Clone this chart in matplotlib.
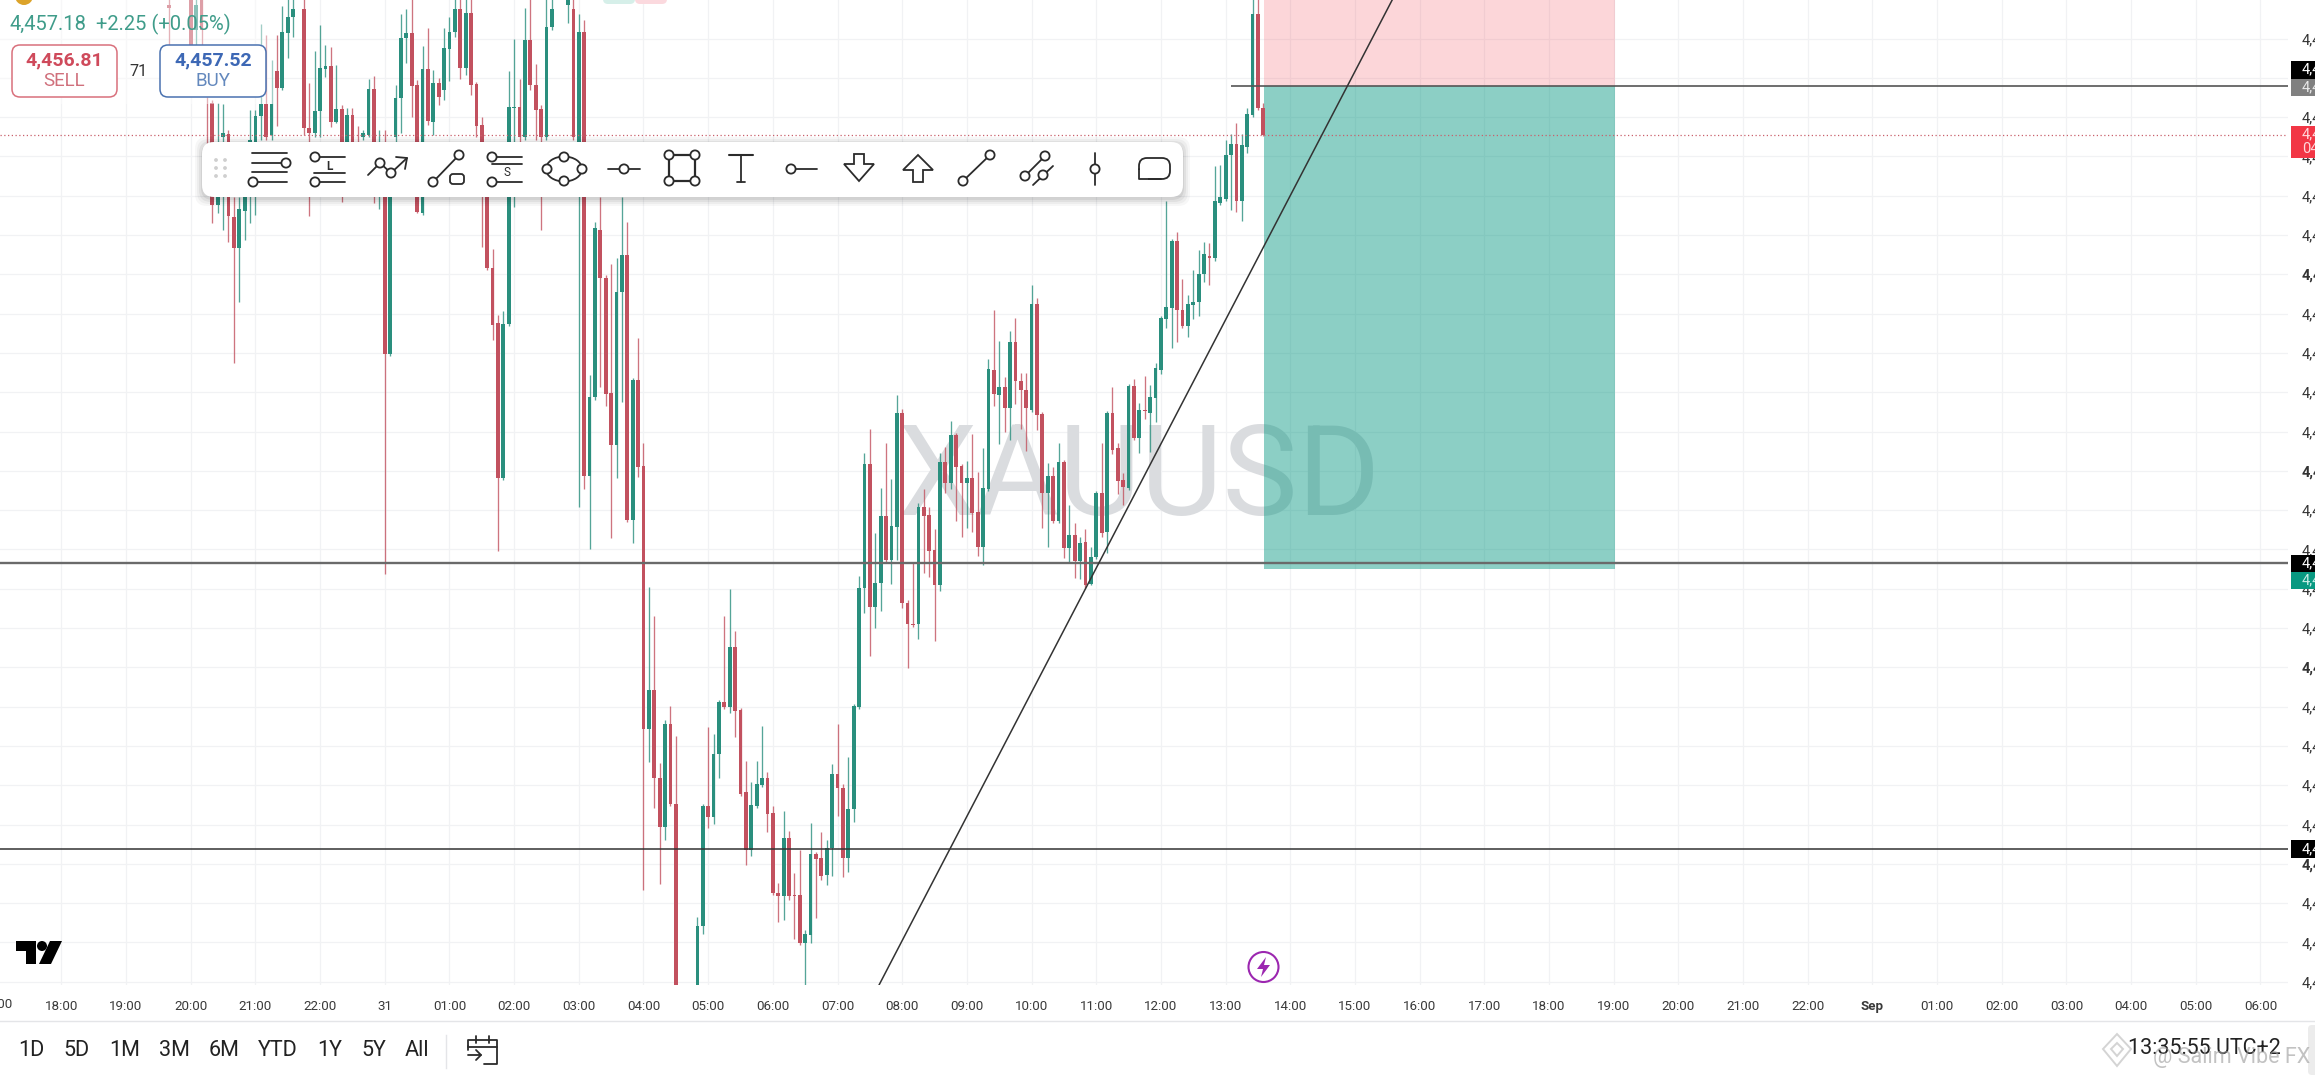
import numpy as np
import matplotlib
matplotlib.use('Agg')
import matplotlib.pyplot as plt
from matplotlib.patches import Circle, Ellipse, FancyBboxPatch, Polygon, Rectangle

plt.rcParams['font.family'] = ['Roboto', 'DejaVu Sans']

# 5 minute XAUUSD candles, bar 0 is the 04:00 candle
bar_index = np.arange(-88, 116)

opens = [
    4470.2, 4472.2, 4473.2, 4472.2, 4471.2, 4467.7, 4470.9, 4456.2, 4460.4, 4450.2,
    4457.0, 4457.3, 4449.0, 4445.9, 4449.6, 4451.7, 4452.7, 4459.1, 4460.3, 4457.2,
    4463.6, 4461.9, 4467.4, 4469.0, 4471.5, 4469.8, 4457.9, 4457.4, 4459.6, 4463.8,
    4464.1, 4458.5, 4459.8, 4454.7, 4459.2, 4456.2, 4457.0, 4457.2, 4461.8, 4452.7,
    4453.2, 4435.3, 4457.0, 4460.9, 4466.9, 4467.4, 4462.2, 4449.4, 4463.8, 4458.5,
    4462.4, 4461.7, 4465.8, 4467.5, 4469.8, 4463.9, 4469.4, 4462.3, 4458.2, 4451.7,
    4443.9, 4438.4, 4422.9, 4438.3, 4459.9, 4460.0, 4457.0, 4466.7, 4462.2, 4459.8,
    4457.0, 4468.0, 4471.5, 4471.5, 4470.2, 4469.8, 4452.7, 4467.5, 4423.1, 4431.0,
    4447.7, 4442.9, 4431.4, 4426.2, 4441.5, 4445.2, 4418.7, 4432.7, 4424.1, 4397.8,
    4401.7, 4392.9, 4388.0, 4398.3, 4390.3, 4371.2, 4367.7, 4369.7, 4372.2, 4378.1,
    4390.1, 4389.0, 4395.3, 4400.5, 4400.0, 4406.0, 4399.7, 4391.5, 4385.7, 4390.1,
    4392.2, 4392.9, 4389.4, 4381.4, 4381.1, 4386.9, 4381.2, 4381.2, 4376.4, 4377.2,
    4385.3, 4384.9, 4383.2, 4385.9, 4393.3, 4391.9, 4384.9, 4389.8, 4400.0, 4411.9,
    4424.3, 4410.0, 4412.4, 4419.1, 4414.7, 4418.0, 4429.4, 4410.4, 4408.3, 4408.3,
    4420.0, 4419.2, 4415.7, 4412.2, 4424.5, 4422.4, 4427.2, 4424.1, 4422.4, 4422.9,
    4419.5, 4416.0, 4421.8, 4433.7, 4431.2, 4432.0, 4429.9, 4436.5, 4432.6, 4431.7,
    4429.7, 4440.3, 4429.3, 4421.4, 4423.1, 4418.6, 4424.5, 4415.9, 4417.2, 4414.6,
    4416.5, 4412.3, 4415.0, 4421.4, 4417.5, 4429.4, 4425.9, 4422.7, 4421.9, 4432.1,
    4426.9, 4429.7, 4429.4, 4430.9, 4433.7, 4438.8, 4439.9, 4446.6, 4439.7, 4438.1,
    4440.2, 4440.5, 4443.3, 4445.1, 4444.9, 4450.4, 4450.8, 4455.2, 4456.3, 4450.6,
    4456.0, 4459.2, 4469.3, 4459.9,
]
highs = [
    4471.2, 4473.7, 4473.7, 4473.7, 4471.7, 4471.2, 4471.2, 4461.0, 4460.7, 4460.4,
    4460.3, 4457.7, 4451.0, 4451.0, 4451.7, 4459.7, 4459.7, 4468.3, 4467.2, 4464.7,
    4467.2, 4470.1, 4471.0, 4471.2, 4472.7, 4471.7, 4462.4, 4465.6, 4468.2, 4466.2,
    4466.0, 4464.2, 4460.2, 4459.9, 4459.9, 4458.1, 4457.7, 4462.8, 4463.1, 4457.7,
    4457.7, 4455.7, 4462.2, 4469.3, 4469.8, 4470.9, 4462.7, 4466.1, 4467.9, 4463.7,
    4462.9, 4467.9, 4469.0, 4471.0, 4471.0, 4471.0, 4471.0, 4462.5, 4459.0, 4452.7,
    4445.8, 4439.2, 4439.6, 4463.6, 4466.8, 4462.8, 4469.9, 4470.9, 4464.3, 4460.2,
    4471.0, 4471.0, 4472.7, 4472.7, 4472.2, 4471.0, 4469.3, 4468.7, 4433.2, 4448.5,
    4451.0, 4443.2, 4444.3, 4444.9, 4451.0, 4448.5, 4432.9, 4436.9, 4426.4, 4412.0,
    4409.1, 4394.4, 4398.7, 4400.1, 4397.1, 4371.7, 4371.7, 4371.7, 4379.0, 4390.3,
    4398.0, 4397.3, 4400.7, 4409.1, 4411.8, 4407.6, 4399.9, 4394.6, 4392.5, 4394.6,
    4398.1, 4393.5, 4390.1, 4382.4, 4389.6, 4387.6, 4383.4, 4385.7, 4377.7, 4388.4,
    4385.5, 4387.5, 4386.7, 4394.3, 4398.3, 4392.3, 4395.0, 4400.3, 4413.1, 4425.4,
    4427.8, 4417.4, 4421.9, 4426.4, 4422.8, 4431.2, 4429.8, 4410.7, 4414.5, 4420.4,
    4421.8, 4420.0, 4417.8, 4425.4, 4426.0, 4428.6, 4427.4, 4424.3, 4424.6, 4427.3,
    4423.5, 4425.9, 4434.8, 4439.7, 4436.6, 4433.0, 4437.6, 4438.9, 4433.4, 4433.4,
    4442.2, 4440.9, 4429.5, 4424.4, 4424.0, 4426.4, 4424.7, 4420.2, 4418.4, 4417.0,
    4417.8, 4416.0, 4421.6, 4426.4, 4429.6, 4432.0, 4426.4, 4423.4, 4432.3, 4432.8,
    4430.4, 4433.1, 4432.2, 4434.4, 4439.1, 4450.6, 4446.8, 4447.5, 4442.8, 4441.2,
    4443.7, 4445.7, 4446.5, 4446.4, 4454.1, 4454.2, 4456.7, 4457.3, 4458.4, 4457.3,
    4459.9, 4471.2, 4471.2, 4460.4,
]
lows = [
    4465.7, 4471.7, 4471.7, 4471.7, 4464.7, 4466.2, 4465.9, 4451.7, 4448.4, 4449.4,
    4447.7, 4446.5, 4434.4, 4440.5, 4446.7, 4448.4, 4449.2, 4456.7, 4456.7, 4456.7,
    4458.1, 4461.7, 4464.9, 4467.0, 4471.0, 4457.2, 4449.1, 4457.0, 4457.0, 4463.0,
    4458.0, 4458.4, 4450.5, 4453.2, 4453.2, 4452.2, 4456.7, 4457.0, 4450.4, 4449.8,
    4413.3, 4435.1, 4453.7, 4457.4, 4464.4, 4459.0, 4449.4, 4449.2, 4458.2, 4457.2,
    4460.2, 4460.7, 4462.6, 4467.0, 4462.8, 4463.2, 4461.2, 4457.0, 4446.0, 4443.7,
    4436.7, 4415.6, 4422.7, 4438.1, 4450.0, 4456.2, 4456.7, 4461.7, 4456.7, 4447.7,
    4456.7, 4467.7, 4471.0, 4471.0, 4468.4, 4456.7, 4420.0, 4421.8, 4415.8, 4430.7,
    4432.0, 4430.1, 4416.9, 4422.9, 4430.5, 4418.5, 4416.4, 4423.0, 4381.7, 4394.5,
    4389.9, 4382.3, 4386.7, 4390.1, 4366.7, 4366.7, 4366.7, 4368.7, 4370.7, 4377.3,
    4387.9, 4388.3, 4392.9, 4399.8, 4399.4, 4397.0, 4391.1, 4384.2, 4385.1, 4389.9,
    4392.0, 4387.5, 4381.2, 4378.5, 4378.7, 4380.7, 4376.8, 4376.2, 4372.2, 4376.4,
    4378.9, 4382.7, 4382.2, 4383.1, 4389.1, 4383.0, 4383.5, 4388.5, 4399.8, 4409.4,
    4405.1, 4407.9, 4409.6, 4414.4, 4412.3, 4414.7, 4409.9, 4403.9, 4408.0, 4406.8,
    4413.4, 4413.0, 4406.6, 4411.6, 4421.4, 4421.8, 4418.6, 4417.0, 4417.9, 4417.5,
    4415.1, 4414.2, 4421.6, 4430.1, 4426.3, 4427.5, 4426.7, 4430.3, 4427.8, 4425.6,
    4429.5, 4427.7, 4417.9, 4416.0, 4418.4, 4418.4, 4414.9, 4414.5, 4412.9, 4412.8,
    4411.9, 4412.2, 4414.8, 4417.0, 4415.4, 4425.3, 4421.3, 4420.2, 4421.7, 4426.7,
    4425.4, 4428.8, 4425.5, 4428.5, 4433.3, 4437.9, 4435.9, 4436.5, 4437.9, 4437.0,
    4438.8, 4439.1, 4442.5, 4442.2, 4444.6, 4450.2, 4450.6, 4449.7, 4449.5, 4448.6,
    4455.4, 4459.0, 4459.7, 4457.1,
]
closes = [
    4469.9, 4473.2, 4472.2, 4473.2, 4466.2, 4470.2, 4467.7, 4453.7, 4450.2, 4454.7,
    4457.4, 4449.1, 4445.9, 4449.8, 4451.0, 4456.7, 4459.1, 4460.3, 4457.0, 4460.3,
    4461.9, 4467.5, 4469.0, 4469.8, 4472.2, 4457.9, 4457.4, 4459.6, 4463.9, 4464.1,
    4458.5, 4459.8, 4453.7, 4459.2, 4454.2, 4453.7, 4457.4, 4461.8, 4453.7, 4455.7,
    4435.3, 4454.7, 4460.9, 4466.9, 4467.4, 4462.1, 4449.5, 4463.8, 4458.6, 4462.4,
    4461.0, 4465.9, 4467.5, 4469.8, 4463.9, 4469.4, 4462.2, 4458.1, 4451.2, 4443.9,
    4438.2, 4422.9, 4438.3, 4460.0, 4460.0, 4457.0, 4466.7, 4462.2, 4459.7, 4457.0,
    4468.0, 4469.8, 4472.2, 4472.2, 4471.7, 4457.0, 4467.5, 4423.1, 4431.0, 4447.9,
    4442.9, 4431.3, 4426.2, 4441.5, 4445.2, 4418.7, 4432.7, 4424.0, 4397.8, 4401.7,
    4392.9, 4388.0, 4398.3, 4390.3, 4372.2, 4367.7, 4371.2, 4371.2, 4378.1, 4390.1,
    4389.0, 4395.3, 4400.5, 4400.0, 4406.0, 4399.6, 4391.3, 4385.7, 4390.2, 4392.3,
    4392.9, 4389.3, 4381.4, 4381.1, 4386.9, 4381.1, 4381.1, 4376.4, 4377.3, 4385.3,
    4384.8, 4383.1, 4385.9, 4393.3, 4391.9, 4384.9, 4389.8, 4400.1, 4411.9, 4424.3,
    4410.0, 4412.4, 4419.1, 4414.7, 4418.1, 4429.4, 4410.4, 4408.3, 4408.2, 4420.0,
    4419.1, 4415.6, 4412.2, 4424.5, 4422.4, 4427.2, 4424.0, 4422.4, 4422.9, 4419.4,
    4416.0, 4421.9, 4433.8, 4431.3, 4432.0, 4429.9, 4436.5, 4432.6, 4431.7, 4429.9,
    4440.3, 4429.2, 4421.4, 4423.1, 4418.6, 4424.5, 4415.9, 4417.2, 4414.6, 4416.4,
    4412.2, 4415.0, 4421.4, 4417.4, 4429.4, 4425.7, 4422.6, 4422.0, 4432.1, 4426.9,
    4429.7, 4429.6, 4431.0, 4433.9, 4438.9, 4440.0, 4446.6, 4439.7, 4438.1, 4440.3,
    4440.5, 4443.3, 4445.3, 4444.9, 4450.6, 4451.0, 4455.2, 4456.3, 4450.6, 4456.2,
    4459.3, 4469.3, 4459.9, 4457.2,
]

# axis labels
hour_ticks = [12 * k for k in range(-9, 26)]
hour_labels = ['18:00', '19:00', '20:00', '21:00', '22:00', '31', '01:00', '02:00', '03:00',
               '04:00', '05:00', '06:00', '07:00', '08:00', '09:00', '10:00', '11:00', '12:00',
               '13:00', '14:00', '15:00', '16:00', '17:00', '18:00', '19:00', '20:00', '21:00',
               '22:00', 'Sep', '01:00', '02:00', '03:00', '04:00', '05:00', '06:00']
price_ticks = [4466.85 - 3.93 * k for k in range(25)]
ranges = ['1D', '5D', '1M', '3M', '6M', 'YTD', '1Y', '5Y', 'All']

# drawings on the chart
last_price = 4457.18
support_levels = [4414.37, 4385.8]
entry_level = 4462.13
target_level = 4413.8
stop_level = 4472.0
box_start, box_end = 115.1, 180.2
trend_bars = [43.7, 138.9]
trend_prices = [4372.2, 4470.7]

GREEN = '#2a8f7e'
RED = '#c2515f'
INK = '#2b2b2b'

fig = plt.figure(figsize=(23.15, 10.8), dpi=100, facecolor='white')

# price chart, bars 5.39 px wide on a 0.1 USD per px scale
ax = fig.add_axes([0, 1 - 985 / 1080, 2288 / 2315, 985 / 1080])
ax.set_xlim(-643.5 / 5.39, (2288 - 643.5) / 5.39)
ax.set_ylim(4372.2, 4470.7)
for side in ax.spines.values():
    side.set_visible(False)
ax.set_axisbelow(True)
ax.grid(True, color='#f1f2f4', lw=0.9)

ax.set_xticks(hour_ticks, hour_labels)
ax.tick_params(axis='x', length=0, pad=11, labelsize=9.6, labelcolor='#3a3a3a')
for lab, name in zip(ax.get_xticklabels(), hour_labels):
    if name == 'Sep':
        lab.set_fontweight('bold')

ax.yaxis.tick_right()
ax.set_yticks(price_ticks, ['4,4'] * len(price_ticks))
ax.tick_params(axis='y', length=0, pad=10, labelsize=10.5, labelcolor='#333333')
for k, lab in enumerate(ax.get_yticklabels()):
    if k % 5 == 1:
        lab.set_fontweight('bold')

ax.text(92, 4422.6, 'XAUUSD', fontsize=91, color='#dadcdf', ha='center', va='center', zorder=1)

ax.add_patch(Rectangle((box_start, entry_level), box_end - box_start, stop_level - entry_level,
                       fc='#f23645', alpha=0.2, lw=0, zorder=2))
ax.add_patch(Rectangle((box_start, target_level), box_end - box_start, entry_level - target_level,
                       fc='#00957f', alpha=0.45, lw=0, zorder=2))

opens = np.array(opens)
closes = np.array(closes)
colors = np.where(closes >= opens, GREEN, RED)
ax.vlines(bar_index, lows, highs, colors=colors, lw=0.95, alpha=0.8, zorder=3)
ax.bar(bar_index, np.abs(closes - opens), bottom=np.minimum(opens, closes), width=0.7,
       color=colors, lw=0, zorder=3.2)

ax.axhline(last_price, color='#c9606c', lw=0.9, ls=(0, (1, 2)), zorder=3.5)
ax.axhline(support_levels[0], color='#6a6a6a', lw=1.7, zorder=4)
ax.axhline(support_levels[1], color='#333333', lw=1.1, zorder=4)
ax.hlines(entry_level, (1231 - 643.5) / 5.39, (2288 - 643.5) / 5.39, color='#555555', lw=1.2, zorder=4)
ax.plot(trend_bars, trend_prices, color='#333333', lw=1.1, zorder=4.5)

# overlay in pixels for the app chrome
ov = fig.add_axes([0, 0, 1, 1], facecolor='none')
ov.set_xlim(0, 2315)
ov.set_ylim(1080, 0)
ov.axis('off')


def seg(xs, ys, color=INK, lw=1.3, zorder=12):
    ov.plot(xs, ys, color=color, lw=lw, solid_capstyle='round', zorder=zorder)


def ring(x, y, r=4.6):
    ov.add_patch(Circle((x, y), r, fc='white', ec=INK, lw=1.3, zorder=13))


def box(x0, y0, x1, y1, rounding=6, **kw):
    p = FancyBboxPatch((x0 + rounding, y0 + rounding), x1 - x0 - 2 * rounding, y1 - y0 - 2 * rounding,
                       boxstyle=f'round,pad={rounding},rounding_size={rounding}', **kw)
    ov.add_patch(p)


# quote header
ov.add_patch(Rectangle((0, 0), 275, 104, fc='white', alpha=0.45, lw=0, zorder=8))
ov.add_patch(Circle((24, -4), 9, fc='#dca32a', lw=0, zorder=9))
box(603, -14, 635, 4, rounding=5, fc='#d6efe9', lw=0, zorder=9)
box(635, -14, 667, 4, rounding=5, fc='#fbd9de', lw=0, zorder=9)
ov.text(10, 24, '4,457.18', color='#3f9c8a', fontsize=14.5, va='center', zorder=10)
ov.text(96, 24, '+2.25 (+0.05%)', color='#3f9c8a', fontsize=14.5, va='center', zorder=10)
box(12, 45, 117, 97, rounding=8, fc='white', ec='#d9707c', lw=1.1, zorder=9)
box(160, 45, 266, 97, rounding=8, fc='white', ec='#4a72b0', lw=1.1, zorder=9)
ov.text(64.5, 60, '4,456.81', color='#cf4a5b', fontsize=14, fontweight='bold', ha='center', va='center', zorder=10)
ov.text(64.5, 81, 'SELL', color='#d0707c', fontsize=13.5, ha='center', va='center', zorder=10)
ov.text(138, 71, '71', color='#333333', fontsize=11.5, ha='center', va='center', zorder=10)
ov.text(213, 60, '4,457.52', color='#3d68b5', fontsize=14, fontweight='bold', ha='center', va='center', zorder=10)
ov.text(213, 81, 'BUY', color='#6388bd', fontsize=13.5, ha='center', va='center', zorder=10)

# drawing toolbar
for grow, alpha in [(7, 0.03), (5, 0.04), (3, 0.05), (1, 0.06)]:
    box(202 - grow, 142 - grow + 2, 1183 + grow, 197 + grow + 2, rounding=12, fc='black', alpha=alpha, lw=0, zorder=10)
box(202, 142, 1183, 197, rounding=12, fc='white', lw=0, zorder=11)
for dx in (216, 225):
    for dy in (160, 168, 176):
        ov.add_patch(Circle((dx, dy), 1.9, fc='#cfcfcf', lw=0, zorder=12))

cy = 168
cx = [269 + 59 * i for i in range(16)]

c = cx[0]
seg([c - 17, c + 18], [cy - 15, cy - 15])
seg([c - 17, c + 12], [cy - 5, cy - 5])
seg([c - 17, c + 18], [cy + 4, cy + 4])
seg([c - 11, c + 18], [cy + 14, cy + 14])
ring(c + 17, cy - 5)
ring(c - 16, cy + 14)

for c, letter in ((cx[1], 'L'), (cx[4], 'S')):
    seg([c - 8, c + 17], [cy - 11, cy - 11])
    seg([c - 8, c + 17], [cy + 14, cy + 14])
    ring(c - 13, cy - 11)
    ring(c - 13, cy + 14)
    if letter == 'L':
        seg([c - 14, c + 17], [cy + 5, cy + 5])
        ov.text(c + 1, cy - 2, 'L', fontsize=8.5, fontweight='bold', color=INK, ha='center', va='center', zorder=12)
    else:
        seg([c - 13, c + 17], [cy - 4, cy - 4])
        ov.text(c + 2, cy + 5, 'S', fontsize=8.5, color=INK, ha='center', va='center', zorder=12)

c = cx[2]
seg([c - 19, c - 7, c + 4, c + 20], [cy + 7, cy - 5, cy + 5, cy - 10])
seg([c + 9, c + 20, c + 18], [cy - 11, cy - 10, cy + 1])
ring(c - 7, cy - 5)
ring(c + 4, cy + 5)

c = cx[3]
seg([c - 13, c + 13], [cy + 14, cy - 13])
ring(c - 13, cy + 14)
ring(c + 13, cy - 13)
box(c + 4, cy + 6, c + 18, cy + 16, rounding=3, fc='white', ec=INK, lw=1.3, zorder=12)

c = cx[5]
ov.add_patch(Ellipse((c, cy + 1), 36, 25, fc='none', ec=INK, lw=1.3, zorder=12))
for dx, dy in ((0, -11), (-17, 1), (18, 1), (0, 13)):
    ring(c + dx, cy + dy)

c = cx[6]
seg([c - 15, c + 17], [cy + 1, cy + 1])
ring(c + 1, cy + 1)

c = cx[7]
seg([c - 13, c + 13, c + 13, c - 13, c - 13], [cy - 13, cy - 13, cy + 13, cy + 13, cy - 13], lw=1.6)
for dx, dy in ((-13, -13), (13, -13), (-13, 13), (13, 13)):
    ring(c + dx, cy + dy)

c = cx[8]
seg([c - 12, c + 12], [cy - 13, cy - 13], lw=1.5)
seg([c, c], [cy - 13, cy + 14])
seg([c - 4, c + 4], [cy + 14, cy + 14])

c = cx[9]
seg([c - 9, c + 17], [cy + 1, cy + 1])
ring(c - 9, cy + 1)

c = cx[10]
ov.add_patch(Polygon([(c - 5, cy - 14), (c + 5, cy - 14), (c + 5, cy - 4), (c + 15, cy - 4), (c, cy + 13),
                      (c - 15, cy - 4), (c - 5, cy - 4)], fc='white', ec=INK, lw=1.3, zorder=12))
c = cx[11]
ov.add_patch(Polygon([(c - 5, cy + 14), (c + 5, cy + 14), (c + 5, cy + 2), (c + 15, cy + 2), (c, cy - 13),
                      (c - 15, cy + 2), (c - 5, cy + 2)], fc='white', ec=INK, lw=1.3, zorder=12))

c = cx[12]
seg([c - 14, c + 13], [cy + 13, cy - 13])
ring(c - 14, cy + 13)
ring(c + 13, cy - 13)

c = cx[13]
seg([c - 11, c + 9], [cy + 8, cy - 12])
seg([c - 3, c + 17], [cy + 17, cy - 2])
ring(c - 11, cy + 8)
ring(c + 9, cy - 12)
ring(c + 7, cy + 7)

c = cx[14]
seg([c, c], [cy - 15, cy + 17])
ring(c, cy + 1)

# rounded shape, square only at the lower left corner
c = cx[15]
box(c - 15, cy - 10, c + 16, cy + 11, rounding=8, fc='white', ec=INK, lw=1.3, zorder=12)
ov.add_patch(Rectangle((c - 17, cy + 2), 11, 11, fc='white', lw=0, zorder=12.3))
seg([c - 15, c - 15, c + 7], [cy + 1, cy + 11, cy + 11], zorder=12.6)

# tags on the price scale
tags = [
    (60.5, 78.5, 'black', 'white', ['4,4'], [69.5]),
    (78.5, 95.7, '#808080', '#e8e8e8', ['4,4'], [87]),
    (125.5, 157.7, '#f23645', '#ffd9dc', ['4,4', '04'], [134, 149]),
    (555, 572, 'black', 'white', ['4,4'], [563.5]),
    (572, 589, '#089981', '#c8eee6', ['4,4'], [580.5]),
    (840, 858, 'black', 'white', ['4,4'], [849]),
]
for y0, y1, fc, tc, texts, ys in tags:
    ov.add_patch(Rectangle((2291, y0), 24, y1 - y0, fc=fc, lw=0, zorder=9))
    for t, y in zip(texts, ys):
        ov.text(2302, y, t, color=tc, fontsize=10.5, va='center', zorder=10)

# bolt marker and TV logo
ov.add_patch(Circle((1263.5, 967), 15, fc='white', ec='#9c27b0', lw=1.5, zorder=9))
ov.add_patch(Polygon([(1266, 957), (1257, 969), (1263, 969), (1261, 977), (1270, 965), (1264, 965)],
                     fc='#9c27b0', lw=0, zorder=10))
ov.add_patch(Polygon([(16, 941), (36, 941), (36, 964), (26, 964), (26, 951), (16, 951)], fc='black', lw=0, zorder=9))
ov.add_patch(Circle((42, 946), 5, fc='black', lw=0, zorder=9))
ov.add_patch(Polygon([(50, 941), (62, 941), (51, 964), (39, 964)], fc='black', lw=0, zorder=9))

# bottom bar
ov.text(-3.5, 1004, '17:00', fontsize=9.6, color='#3a3a3a', ha='center', va='center', clip_on=True)
ov.plot([0, 2315], [1020.5, 1020.5], color='#e4e5e8', lw=1)
range_x = [31.6, 76.3, 124.6, 174, 224, 278, 330, 374, 417]
for x, name in zip(range_x, ranges):
    ov.text(x, 1050, name, fontsize=15.5, color='#222222', ha='center', va='center')
ov.plot([446, 446], [1035, 1068], color='#e4e5e8', lw=1)

# date range icon
seg([468, 468, 497, 497, 484], [1046, 1040, 1040, 1064, 1064], lw=1.3)
seg([468, 497], [1047, 1047], lw=1.3)
seg([476, 476], [1036, 1043], lw=1.3)
seg([489, 489], [1036, 1043], lw=1.3)
seg([468, 481, 476], [1055, 1055, 1050], lw=1.3)
seg([481, 476], [1055, 1060], lw=1.3)
seg([468, 468], [1046, 1050], lw=1.3)

ov.text(2204, 1048, '13:35:55 UTC+2', fontsize=15.5, color='#222222', ha='center', va='center', zorder=6)
ov.add_patch(Polygon([(2117, 1034), (2131, 1049), (2117, 1066), (2103, 1049)], fc='none', ec='#d4d4d4', lw=1.4, zorder=7))
ov.add_patch(Polygon([(2117, 1043), (2123, 1049), (2117, 1056), (2111, 1049)], fc='none', ec='#d4d4d4', lw=1.4, zorder=7))
ov.text(2232, 1057, '@ Salim Vibe FX', fontsize=15.5, color='#9a9a9a', alpha=0.6, ha='center', va='center', zorder=7)
box(2308, 1025, 2325, 1075, rounding=4, fc='#ececec', lw=0, zorder=5)

fig.savefig('out.png', dpi=100, facecolor='white')
